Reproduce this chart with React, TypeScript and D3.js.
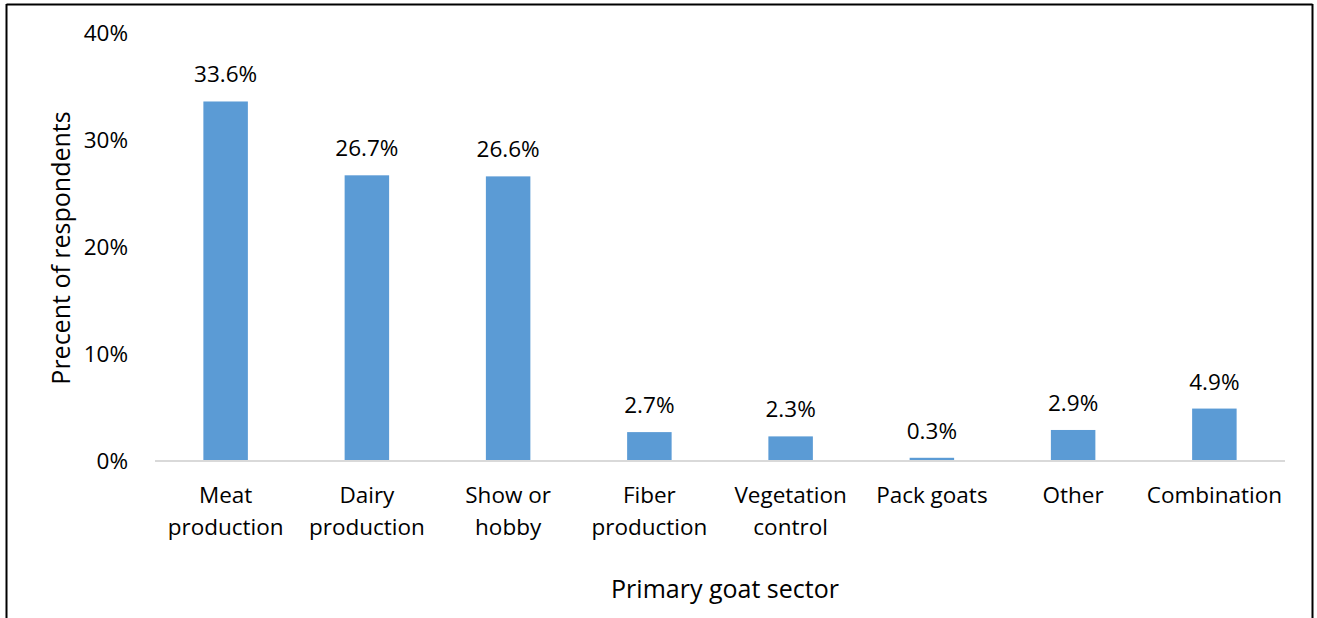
import React from "react";
import * as d3 from "d3";

const categories: string[][] = [
  ["Meat", "production"],
  ["Dairy", "production"],
  ["Show or", "hobby"],
  ["Fiber", "production"],
  ["Vegetation", "control"],
  ["Pack goats"],
  ["Other"],
  ["Combination"],
];
const values: number[] = [33.6, 26.7, 26.6, 2.7, 2.3, 0.3, 2.9, 4.9];
const yTicks: number[] = [0, 10, 20, 30, 40];

const W = 1317;
const H = 618;
const FONT = "'Open Sans', sans-serif";
const FS = 22.5;

export default function App() {
  const x = d3
    .scaleBand<number>()
    .domain(values.map((_, i) => i))
    .range([155, 1285])
    .paddingInner(0.685)
    .paddingOuter(0.3425);
  const y = d3.scaleLinear().domain([0, 40]).range([461, 33]);
  const band = 1130 / categories.length;

  return (
    <svg
      width={W}
      height={H}
      style={{ position: "absolute", left: 0, top: 0, background: "#fff" }}
      fontFamily={FONT}
    >
      <rect x={0} y={0} width={W} height={H} fill="#fff" />
      {/* border */}
      <line x1={6.5} y1={4.5} x2={1312.5} y2={4.5} stroke="#000" strokeWidth={2} />
      <line x1={6.5} y1={4} x2={6.5} y2={H} stroke="#000" strokeWidth={2} />
      <line x1={1312.5} y1={4} x2={1312.5} y2={H} stroke="#000" strokeWidth={2} />

      {/* y ticks */}
      {yTicks.map((t) => (
        <text
          key={t}
          x={128}
          y={y(t)}
          dy="0.35em"
          textAnchor="end"
          fontSize={FS}
          fill="#000"
        >
          {t}%
        </text>
      ))}

      {/* bars */}
      {values.map((v, i) => (
        <g key={i}>
          <rect
            x={x(i)!}
            y={y(v)}
            width={x.bandwidth()}
            height={y(0) - y(v)}
            fill="#5b9bd5"
          />
          <text
            x={x(i)! + x.bandwidth() / 2}
            y={y(v) - 19}
            textAnchor="middle"
            fontSize={FS}
            fill="#000"
          >
            {v.toFixed(1)}%
          </text>
        </g>
      ))}

      {/* x axis baseline */}
      <line x1={155} x2={1285} y1={461} y2={461} stroke="#d9d9d9" strokeWidth={2} />

      {/* category labels */}
      {categories.map((lines, i) => (
        <text
          key={i}
          x={155 + band * (i + 0.5)}
          y={503}
          textAnchor="middle"
          fontSize={FS}
          fill="#000"
        >
          {lines.map((l, j) => (
            <tspan key={j} x={155 + band * (i + 0.5)} dy={j === 0 ? 0 : 32}>
              {l}
            </tspan>
          ))}
        </text>
      ))}

      {/* axis titles */}
      <text
        transform={`translate(70,${248}) rotate(-90)`}
        textAnchor="middle"
        fontSize={25}
        fill="#000"
      >
        Precent of respondents
      </text>
      <text x={725} y={598} textAnchor="middle" fontSize={25} fill="#000">
        Primary goat sector
      </text>
    </svg>
  );
}
